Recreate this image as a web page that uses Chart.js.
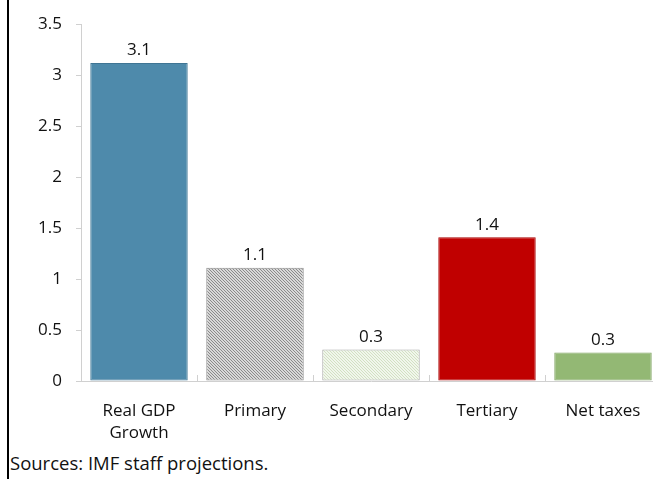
<!DOCTYPE html>
<html>
<head>
<meta charset="utf-8">
<script src="https://cdn.jsdelivr.net/npm/chart.js@4.4.1/dist/chart.umd.min.js"></script>
<style>
  html, body { margin: 0; padding: 0; background: #fff; overflow: hidden; }
  body { width: 653px; height: 479px; position: relative; font-family: 'Open Sans', 'Noto Sans', sans-serif; }
  #frame { position: absolute; left: 7px; top: 0; width: 2px; height: 479px; background: #000; }
  #wrap { position: absolute; left: 0; top: 0; width: 680px; height: 440px; }
  #src { position: absolute; left: 10px; top: 450px; font-size: 18.5px; color: #111; }
</style>
</head>
<body>
<div id="frame"></div>
<div id="wrap"><canvas id="chart" width="680" height="440"></canvas></div>
<div id="src">Sources: IMF staff projections.</div>
<script>
// ── data ──
const categories = [['Real GDP', 'Growth'], 'Primary', 'Secondary', 'Tertiary', 'Net taxes'];
const values = [3.12, 1.11, 0.31, 1.41, 0.28];
const yTicks = [0, 0.5, 1, 1.5, 2, 2.5, 3, 3.5];

const FONT = "'Open Sans', 'Noto Sans', sans-serif";

function hatch(bg, fg, size) {
    const c = document.createElement('canvas');
    c.width = size; c.height = size;
    const g = c.getContext('2d');
    g.fillStyle = bg;
    g.fillRect(0, 0, size, size);
    g.fillStyle = fg;
    for (let i = 0; i < size; i++) g.fillRect(i, i, 1, 1);
    return g.createPattern(c, 'repeat');
}

const ctx = document.getElementById('chart').getContext('2d');
const fills = [
    '#4E8AAB',
    hatch('#d8d8d8', '#8a8a8a', 3),
    hatch('#f1f6ec', '#d2e1c2', 3),
    '#C00000',
    '#93B874'
];
const borders = ['#3f7594', '#8c8c8c', '#a6a6a6', '#a80000', '#7fa361'];

// value labels above bars
const valueLabels = {
    id: 'valueLabels',
    afterDatasetsDraw(chart) {
        const c = chart.ctx;
        const meta = chart.getDatasetMeta(0);
        c.save();
        c.font = '17px ' + FONT;
        c.fillStyle = '#111';
        c.textAlign = 'center';
        c.textBaseline = 'bottom';
        meta.data.forEach((bar, i) => {
            c.fillText(values[i].toFixed(1), bar.x, bar.y - 4);
        });
        c.restore();
    }
};

// small upward ticks at category boundaries
const catTicks = {
    id: 'catTicks',
    afterDraw(chart) {
        const c = chart.ctx;
        const x = chart.scales.x;
        const bottom = chart.chartArea.bottom;
        const w = (x.right - x.left) / categories.length;
        c.save();
        c.strokeStyle = '#d0d0d0';
        c.lineWidth = 1;
        for (let i = 1; i < categories.length; i++) {
            const px = Math.round(x.left + i * w) + 0.5;
            c.beginPath();
            c.moveTo(px, bottom);
            c.lineTo(px, bottom - 6);
            c.stroke();
        }
        c.restore();
    }
};

new Chart(ctx, {
    type: 'bar',
    data: {
        labels: categories,
        datasets: [{
            data: values,
            backgroundColor: fills,
            borderColor: borders,
            borderWidth: 1,
            borderSkipped: false,
            barPercentage: 0.84,
            categoryPercentage: 1
        }]
    },
    options: {
        responsive: false,
        animation: false,
        layout: { padding: { top: 23, right: 19, left: 0, bottom: 0 } },
        plugins: { legend: { display: false }, tooltip: { enabled: false } },
        scales: {
            y: {
                min: 0, max: 3.5,
                afterFit: s => { s.width = 81; },
                afterBuildTicks: s => { s.ticks = yTicks.map(v => ({ value: v })); },
                ticks: { color: '#111', font: { family: FONT, size: 17 }, padding: 14, callback: v => String(v) },
                grid: { drawOnChartArea: false, tickLength: 5, color: '#d0d0d0' },
                border: { color: '#d0d0d0' }
            },
            x: {
                afterFit: s => { s.height = 59; },
                ticks: { color: '#111', font: { family: FONT, size: 17, lineHeight: 1.25 }, padding: 12, maxRotation: 0 },
                grid: { display: false },
                border: { color: '#d0d0d0' }
            }
        }
    },
    plugins: [valueLabels, catTicks]
});
</script>
</body>
</html>
